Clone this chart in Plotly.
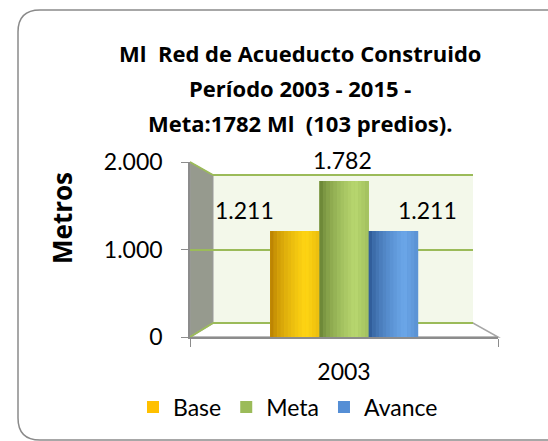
import plotly.graph_objects as go

# data
categories = ["2003"]
series_names = ["Base", "Meta", "Avance"]
series_values = [1211, 1782, 1211]
value_labels = ["1.211", "1.782", "1.211"]
y_ticks = [0, 1000, 2000]
title_lines = ["Ml  Red de Acueducto Construido",
               "Período 2003 - 2015 -",
               "Meta:1782 Ml  (103 predios)."]

# styling
main_colors = ["#FFC000", "#9BBB59", "#558ED5"]
dark_colors = [(176, 118, 0), (96, 122, 46), (38, 80, 140)]
light_colors = [(255, 214, 20), (185, 216, 112), (108, 168, 234)]
bar_offsets = [-0.24, -0.08, 0.08]
bar_width = 0.16
label_xshift = [-100, -2, 83]
FONT = "Lato"

W, H = 548, 441
ML, MR, MT, MB = 190, 50, 162, 104
PW, PH = W - ML - MR, H - MT - MB


def px(x):
    return (x - ML) / PW


def py(y):
    return (H - MB - y) / PH


fig = go.Figure()

# main bars (carry the legend)
for name, val, col, off in zip(series_names, series_values, main_colors, bar_offsets):
    fig.add_trace(go.Bar(x=categories, y=[val], name=name, marker_color=col,
                         marker_line_width=0, width=bar_width, offset=off,
                         hoverinfo="skip"))

# cylinder shading slices
N = 14
for i, (name, val, off) in enumerate(zip(series_names, series_values, bar_offsets)):
    for k in range(N):
        t = (k + 0.5) / N
        if t <= 0.72:
            f = (t / 0.72) ** 0.6
        else:
            f = 1 - 0.9 * (t - 0.72)
        d, l = dark_colors[i], light_colors[i]
        c = tuple(int(d[j] + (l[j] - d[j]) * f) for j in range(3))
        fig.add_trace(go.Bar(x=categories, y=[val], showlegend=False,
                             marker_color="rgb(%d,%d,%d)" % c, marker_line_width=0,
                             width=bar_width / N + 0.001, offset=off + k * bar_width / N,
                             hoverinfo="skip", legendgroup=name))

# value labels (category index 0 = "2003")
for val, lab, xs in zip(series_values, value_labels, label_xshift):
    fig.add_annotation(x=0, y=val, text=lab, showarrow=False,
                       xanchor="center", yanchor="middle",
                       xshift=xs, yshift=21, font=dict(size=23, color="black"))

# title lines
for i, line in enumerate(title_lines):
    fig.add_annotation(xref="paper", yref="paper", x=px(300), y=py(53 + 35 * i),
                       xanchor="center", yanchor="middle",
                       text="<b>%s</b>" % line, showarrow=False,
                       font=dict(family="Open Sans", size=22, color="black"))

# y axis title
fig.add_annotation(xref="paper", yref="paper", x=px(62), y=py(218), text="<b>Metros</b>",
                   xanchor="center", yanchor="middle",
                   textangle=-90, showarrow=False,
                   font=dict(family="Open Sans", size=26, color="black"))

shapes = []
# outer rounded frame
R = 22
x0, y0, x1, y1 = px(18), py(10), px(600), py(440)
rx, ry = R / PW, R / PH
shapes.append(dict(type="path", xref="paper", yref="paper", layer="below",
                   path=f"M {x1},{y0} L {x0+rx},{y0} Q {x0},{y0} {x0},{y0-ry} "
                        f"L {x0},{y1+ry} Q {x0},{y1} {x0+rx},{y1} L {x1},{y1}",
                   line=dict(color="#8a8a8a", width=1.5)))
# back wall
shapes.append(dict(type="rect", xref="paper", yref="paper", layer="below",
                   x0=px(213), x1=px(473), y0=py(323), y1=py(175),
                   fillcolor="#f3f8ea", line_width=0))
# side wall
shapes.append(dict(type="path", xref="paper", yref="paper", layer="below",
                   path=f"M {px(190)},{py(162)} L {px(213)},{py(175)} L {px(213)},{py(323)} "
                        f"L {px(190)},{py(337)} Z",
                   fillcolor="#969a8e", line=dict(color="#9a9a9a", width=1)))
# floor
shapes.append(dict(type="path", xref="paper", yref="paper", layer="below",
                   path=f"M {px(190)},{py(337)} L {px(213)},{py(323)} L {px(473)},{py(323)} "
                        f"L {px(498)},{py(337)} Z",
                   fillcolor="white", line=dict(color="#a6a6a6", width=1.5)))
# green grid lines on walls
for a, b in [(175, 162), (250, 250), (323, 337)]:
    shapes.append(dict(type="line", xref="paper", yref="paper", layer="below",
                       x0=px(190), y0=py(b), x1=px(213), y1=py(a),
                       line=dict(color="#9BBB59", width=2)))
    shapes.append(dict(type="line", xref="paper", yref="paper", layer="below",
                       x0=px(213), y0=py(a), x1=px(473), y1=py(a),
                       line=dict(color="#9BBB59", width=2)))

fig.update_layout(
    width=W, height=H,
    margin=dict(l=ML, r=MR, t=MT, b=MB),
    paper_bgcolor="white", plot_bgcolor="rgba(0,0,0,0)",
    font=dict(family=FONT, size=23, color="black"),
    separators=",.",
    barmode="overlay",
    shapes=shapes,
    showlegend=True,
    legend=dict(orientation="h", x=px(133), xanchor="left", y=py(407), yanchor="middle",
                font=dict(size=23), traceorder="normal", itemwidth=30,
                bgcolor="rgba(0,0,0,0)"),
    xaxis=dict(type="category", range=[-0.5, 0.5], showgrid=False, showline=True,
               linecolor="#8c8c8c", linewidth=1.5, ticks="outside", tickson="boundaries",
               ticklen=8, tickcolor="#8c8c8c", ticklabelstandoff=14, fixedrange=True),
    yaxis=dict(range=[0, 2000], tickvals=y_ticks, tickformat=",d", showgrid=False,
               showline=True, linecolor="#8c8c8c", linewidth=1.5, ticks="outside",
               ticklen=7, tickcolor="#8c8c8c", ticklabelstandoff=14,
               zeroline=False, fixedrange=True),
)

fig.write_html("out.html", config={"displayModeBar": False},
               post_script="document.body.style.margin='0px';")
